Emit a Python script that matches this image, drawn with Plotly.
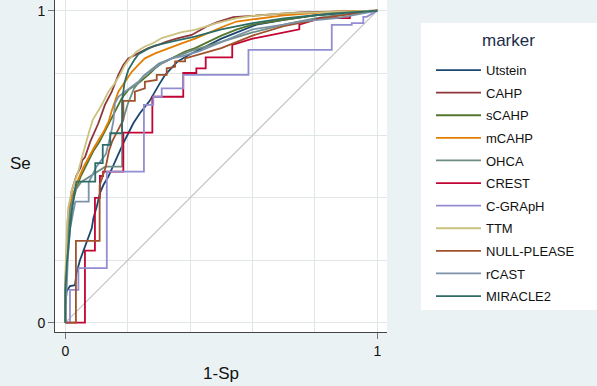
import plotly.graph_objects as go

# ---------------- data ----------------
markers = ["Utstein", "CAHP", "sCAHP", "mCAHP", "OHCA", "CREST", "C-GRApH",
           "TTM", "NULL-PLEASE", "rCAST", "MIRACLE2"]

utstein_x = [0, 0, 0.004, 0.015, 0.031, 0.036, 0.047, 0.058, 0.069, 0.085, 0.09, 0.101, 0.111, 0.122,
             0.138, 0.154, 0.17, 0.186, 0.202, 0.218, 0.239, 0.27, 0.30, 0.32, 0.36, 0.40, 0.45, 0.5,
             0.55, 0.613, 0.7, 0.8, 1]
utstein_y = [0, 0.05, 0.1, 0.117, 0.12, 0.159, 0.2, 0.228, 0.26, 0.303, 0.335, 0.372, 0.415, 0.441,
             0.468, 0.505, 0.543, 0.575, 0.607, 0.639, 0.671, 0.71, 0.762, 0.794, 0.837, 0.86, 0.885, 0.91,
             0.93, 0.955, 0.97, 0.985, 1]

cahp_x = [0, 0, 0.004, 0.01, 0.02, 0.035, 0.05, 0.054, 0.063, 0.08, 0.106, 0.127, 0.149, 0.170, 0.186,
          0.202, 0.224, 0.245, 0.266, 0.298, 0.325, 0.362, 0.405, 0.453, 0.485, 0.538, 0.645, 0.752, 1]
cahp_y = [0, 0.1, 0.16, 0.3, 0.42, 0.47, 0.50, 0.52, 0.53, 0.58, 0.639, 0.698, 0.740, 0.794, 0.826,
          0.847, 0.858, 0.869, 0.880, 0.890, 0.901, 0.912, 0.922, 0.949, 0.962, 0.979, 0.986, 0.994, 1]

scahp_x = [0, 0, 0.005, 0.01, 0.02, 0.035, 0.05, 0.07, 0.09, 0.11, 0.138, 0.159, 0.181, 0.202, 0.234,
           0.266, 0.288, 0.309, 0.341, 0.384, 0.416, 0.46, 0.5, 0.55, 0.6, 0.7, 0.8, 0.9, 1]
scahp_y = [0, 0.12, 0.22, 0.3, 0.37, 0.43, 0.47, 0.51, 0.55, 0.58, 0.634, 0.676, 0.719, 0.746, 0.767,
           0.794, 0.815, 0.831, 0.847, 0.869, 0.880, 0.9, 0.92, 0.94, 0.955, 0.97, 0.985, 0.995, 1]

mcahp_x = [0, 0, 0.004, 0.006, 0.011, 0.027, 0.043, 0.059, 0.075, 0.091, 0.107, 0.123, 0.139, 0.149,
           0.170, 0.191, 0.213, 0.234, 0.255, 0.288, 0.330, 0.373, 0.416, 0.46, 0.507, 0.549, 0.7, 0.86, 1]
mcahp_y = [0, 0.1, 0.2, 0.3, 0.372, 0.42, 0.463, 0.5, 0.532, 0.559, 0.586, 0.612, 0.645, 0.68,
           0.74, 0.772, 0.804, 0.826, 0.847, 0.863, 0.880, 0.895, 0.91, 0.93, 0.949, 0.965, 0.985, 0.997, 1]

ohca_x = [0, 0, 0.005, 0.01, 0.02, 0.03, 0.05, 0.08, 0.128, 0.182, 0.182, 0.2, 0.22, 0.25, 0.3, 0.35,
          0.4, 0.5, 0.6, 0.7, 0.8, 0.9, 1]
ohca_y = [0, 0.12, 0.25, 0.33, 0.38, 0.42, 0.45, 0.47, 0.5, 0.5, 0.64, 0.7, 0.75, 0.79, 0.83, 0.85,
          0.87, 0.9, 0.93, 0.955, 0.975, 0.99, 1]

crest_x = [0, 0.063, 0.063, 0.095, 0.095, 0.111, 0.111, 0.121, 0.121, 0.186, 0.186, 0.279, 0.279,
           0.378, 0.378, 0.42, 0.42, 0.45, 0.45, 0.535, 0.535, 0.6, 0.65, 0.75, 0.75, 0.817, 0.912, 0.912, 1]
crest_y = [0, 0, 0.231, 0.231, 0.40, 0.40, 0.47, 0.47, 0.484, 0.484, 0.609, 0.609, 0.724,
           0.724, 0.80, 0.80, 0.815, 0.815, 0.85, 0.85, 0.89, 0.91, 0.92, 0.94, 0.955, 0.976, 0.976, 0.99, 1]

cgraph_x = [0, 0.015, 0.015, 0.042, 0.042, 0.133, 0.133, 0.252, 0.252, 0.282, 0.282, 0.309, 0.309,
            0.378, 0.378, 0.587, 0.587, 0.854, 0.854, 0.918, 0.918, 0.955, 0.955, 0.966, 1]
cgraph_y = [0, 0, 0.105, 0.105, 0.175, 0.175, 0.484, 0.484, 0.698, 0.698, 0.724, 0.724, 0.751,
            0.751, 0.794, 0.794, 0.874, 0.874, 0.954, 0.954, 0.96, 0.96, 0.98, 0.98, 1]

ttm_x = [0, 0, 0.005, 0.01, 0.021, 0.032, 0.043, 0.054, 0.064, 0.075, 0.088, 0.117, 0.138, 0.159, 0.175,
         0.191, 0.207, 0.229, 0.255, 0.282, 0.309, 0.341, 0.373, 0.416, 0.485, 0.55, 0.6, 0.7, 0.86, 1]
ttm_y = [0, 0.15, 0.3, 0.37, 0.425, 0.457, 0.489, 0.532, 0.570, 0.607, 0.650, 0.698, 0.740, 0.767, 0.794,
         0.826, 0.847, 0.869, 0.885, 0.896, 0.912, 0.922, 0.931, 0.938, 0.96, 0.976, 0.983, 0.991, 0.997, 1]

null_x = [0, 0.034, 0.034, 0.11, 0.11, 0.13, 0.14, 0.15, 0.16, 0.17, 0.186, 0.186, 0.223, 0.223, 0.255,
          0.255, 0.293, 0.293, 0.325, 0.325, 0.352, 0.352, 0.384, 0.384, 0.43, 0.5, 0.55, 0.6, 0.7, 0.85, 1]
null_y = [0, 0, 0.262, 0.262, 0.44, 0.5, 0.55, 0.58, 0.6, 0.62, 0.65, 0.711, 0.711, 0.740, 0.751,
          0.772, 0.778, 0.794, 0.794, 0.815, 0.82, 0.837, 0.837, 0.847, 0.86, 0.88, 0.9, 0.92, 0.95, 0.98, 1]

rcast_x = [0, 0, 0.004, 0.008, 0.015, 0.025, 0.032, 0.075, 0.075, 0.1, 0.13, 0.145, 0.154, 0.159, 0.17,
           0.191, 0.213, 0.234, 0.255, 0.277, 0.309, 0.341, 0.373, 0.43, 0.5, 0.55, 0.6, 0.7, 0.75, 0.87,
           0.95, 1]
rcast_y = [0, 0.05, 0.1, 0.2, 0.3, 0.36, 0.388, 0.388, 0.45, 0.5, 0.54, 0.6, 0.644, 0.703, 0.724,
           0.740, 0.756, 0.772, 0.794, 0.81, 0.831, 0.847, 0.853, 0.87, 0.9, 0.92, 0.94, 0.955, 0.965, 0.976,
           0.99, 1]

miracle_x = [0, 0, 0.005, 0.012, 0.02, 0.03, 0.036, 0.096, 0.096, 0.12, 0.12, 0.144, 0.144, 0.182, 0.182,
             0.19, 0.202, 0.22, 0.234, 0.26, 0.287, 0.351, 0.415, 0.5, 0.6, 0.7, 0.85, 1]
miracle_y = [0, 0.1, 0.19, 0.26, 0.35, 0.42, 0.452, 0.452, 0.511, 0.511, 0.57, 0.57, 0.607, 0.607, 0.71,
             0.77, 0.81, 0.84, 0.86, 0.875, 0.888, 0.903, 0.917, 0.94, 0.96, 0.975, 0.99, 1]

reference_x = [0, 1]
reference_y = [0, 1]

series_x = [utstein_x, cahp_x, scahp_x, mcahp_x, ohca_x, crest_x, cgraph_x, ttm_x, null_x, rcast_x, miracle_x]
series_y = [utstein_y, cahp_y, scahp_y, mcahp_y, ohca_y, crest_y, cgraph_y, ttm_y, null_y, rcast_y, miracle_y]

colors = ["#1a476f", "#90353b", "#55752f", "#e37e00", "#6e8e84", "#c10534",
          "#938dd2", "#cac27e", "#a0522d", "#7b92a8", "#2d6d66"]

FONT = "Liberation Sans, Arial, sans-serif"
BG = "#eaf2f3"
GRID = "#e0e5e7"

fig = go.Figure()
fig.add_trace(go.Scatter(x=reference_x, y=reference_y, mode="lines",
                         line=dict(color="#c4c4c4", width=1.2), showlegend=False, hoverinfo="skip"))
for name, xs, ys, c in zip(markers, series_x, series_y, colors):
    fig.add_trace(go.Scatter(x=xs, y=ys, mode="lines", name=name, legendgroup=name,
                             line=dict(color=c, width=1.8)))

axis_common = dict(
    tickvals=[0, 1], ticktext=["0", "1"], ticks="outside", ticklen=6, tickcolor="#777",
    tickfont=dict(family=FONT, size=14, color="#111"),
    showline=True, linecolor="#444", linewidth=1, mirror=False,
    showgrid=True, gridcolor=GRID, gridwidth=1, zeroline=False, automargin=False,
    minor=dict(tickvals=[0.2, 0.4, 0.6, 0.8], showgrid=True, gridcolor=GRID, ticks=""),
    fixedrange=True,
)

fig.update_layout(
    width=597, height=386,
    margin=dict(l=55, r=210, t=0, b=54, autoexpand=False),
    paper_bgcolor=BG, plot_bgcolor="white",
    font=dict(family=FONT, color="#111"),
    xaxis=dict(range=[-0.033, 1.031],
               title=dict(text="1-Sp", font=dict(family=FONT, size=17, color="#111"), standoff=9),
               **axis_common),
    yaxis=dict(range=[-0.030, 1.034], **axis_common),
    legend=dict(
        x=1.1325, y=0.834, xanchor="left", yanchor="top",
        bgcolor="rgba(0,0,0,0)", borderwidth=0,
        font=dict(family=FONT, size=13, color="#111"),
        tracegroupgap=2.7, itemwidth=45,
    ),
    shapes=[dict(type="rect", xref="paper", yref="paper", x0=1.1024, x1=1.64, y0=0.0663, y1=0.9307,
                 fillcolor="white", line=dict(width=0), layer="below")],
    annotations=[
        dict(text="Se", xref="paper", yref="paper", x=-0.105, y=0.509, showarrow=False,
             font=dict(family=FONT, size=17, color="#111"), xanchor="center", yanchor="middle"),
        dict(text="marker", xref="paper", yref="paper", x=1.3645, y=0.8795, showarrow=False,
             font=dict(family=FONT, size=17, color="#1c2d4a"), xanchor="center", yanchor="middle"),
    ],
)

fig.write_html("out.html", config={"displayModeBar": False},
               post_script="document.body.style.margin='0';document.body.style.padding='0';")
